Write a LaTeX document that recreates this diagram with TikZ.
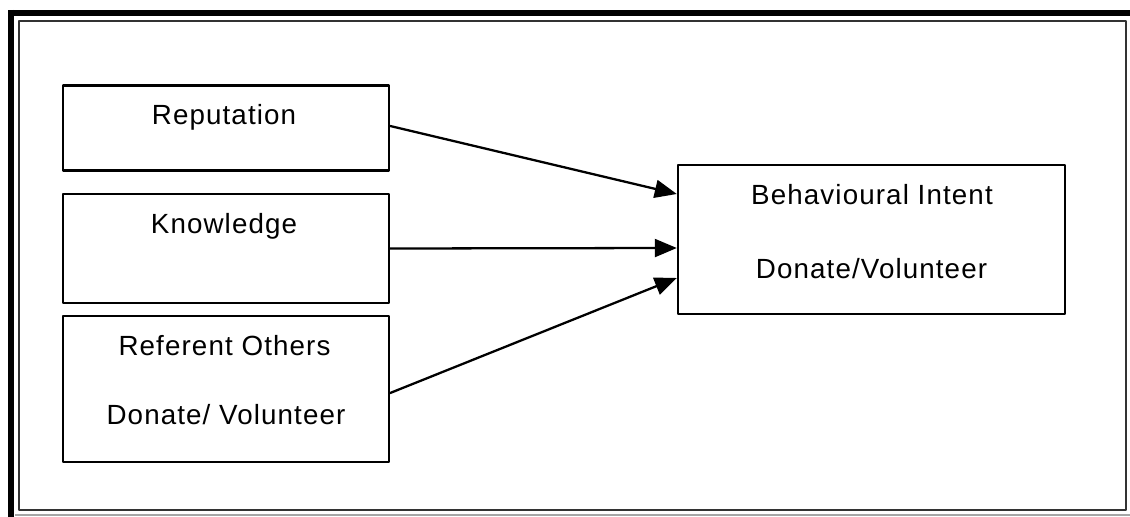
\documentclass[tikz,border=0pt]{standalone}
\usepackage{fontspec}
\setmainfont{Liberation Sans}[LetterSpace=4]
\usetikzlibrary{arrows.meta}

\begin{document}
\begin{tikzpicture}[x=0.02cm, y=-0.02cm, line cap=round, line join=round,
  box/.style={draw, line width=1.4pt, inner sep=0pt, minimum width=6.52cm},
  lbl/.style={anchor=base, inner sep=0pt, font=\fontsize{15.8}{18}\selectfont},
  arr/.style={line width=1.3pt, -{Triangle[length=0.44cm, width=0.36cm]}}]

  \useasboundingbox (0,0) rectangle (1130,517);

  % frame round the figure
  \draw[line width=3.4pt, line cap=butt] (8,13) -- (1130,13);
  \draw[line width=3.4pt, line cap=butt] (11,10) -- (11,517);
  \draw[line width=1.3pt, color=black!80] (19,21) rectangle (1126,510);
  \draw[line width=1.1pt, color=gray!70, line cap=butt] (15,515) -- (1130,515);

  % left column
  \node[box, minimum height=1.70cm] (rep)  at (226,128) {};
  \node[box, minimum height=2.18cm] (know) at (226,248.5) {};
  \node[box, minimum height=2.92cm] (ref)  at (226,389) {};
  \node[lbl] (reptxt)  at (224,125) {Reputation};
  \node[lbl] (knowtxt) at (224,234) {Knowledge};
  \node[lbl] (reftxt)  at (224.5,355) {Referent Others};
  \node[lbl] (refdv)   at (226,424) {Donate/ Volunteer};

  % outcome
  \node[box, minimum width=7.74cm, minimum height=2.98cm] (beh) at (871.5,239.5) {};
  \node[lbl] (behtxt) at (872,205) {Behavioural Intent};
  \node[lbl] (behdv)  at (871.5,278) {Donate/Volunteer};

  \draw[arr] ([yshift=0.04cm]rep.east) -- ([yshift=0.91cm]beh.west);
  \draw[arr] (know.east) -- ([yshift=-0.17cm]beh.west);
  \draw[arr] ([yshift=-0.08cm]ref.east) -- ([yshift=-0.77cm]beh.west);

\end{tikzpicture}
\end{document}
